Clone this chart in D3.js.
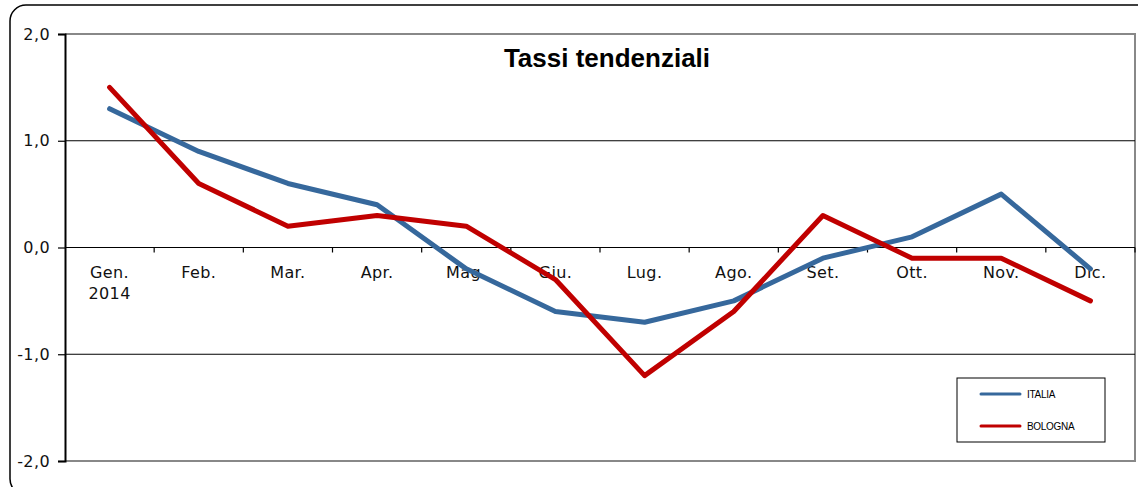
<!DOCTYPE html>
<html>
<head>
<meta charset="utf-8">
<script src="https://cdn.jsdelivr.net/npm/d3@7"></script>
<style>
  body { margin: 0; background: #fff; }
  svg { display: block; }
  .lbl { font-family: "DejaVu Sans", Verdana, sans-serif; font-size: 16px; letter-spacing: 0.4px; fill: #111; }
</style>
</head>
<body>
<svg width="1138" height="487"></svg>
<script>
// months (first one carries the year on a second line)
const months = ['Gen.', 'Feb.', 'Mar.', 'Apr.', 'Mag.', 'Giu.', 'Lug.', 'Ago.', 'Set.', 'Ott.', 'Nov.', 'Dic.'];
const yearLabel = '2014';
const italia = [1.3, 0.9, 0.6, 0.4, -0.2, -0.6, -0.7, -0.5, -0.1, 0.1, 0.5, -0.2];
const bologna = [1.5, 0.6, 0.2, 0.3, 0.2, -0.3, -1.2, -0.6, 0.3, -0.1, -0.1, -0.5];
const yTicks = [2, 1, 0, -1, -2];
const seriesNames = ['ITALIA', 'BOLOGNA'];

const svg = d3.select('svg'),
      colors = ['#36689c', '#c00000'],
      plot = {left: 65, right: 1135, top: 34, bottom: 461};

// outer frame, rounded, runs off the right and bottom edge
svg.append('rect')
  .attr('x', 10).attr('y', 5).attr('width', 1145).attr('height', 490)
  .attr('rx', 16).attr('fill', '#fff')
  .attr('stroke', '#000').attr('stroke-width', 1.5);

const x = d3.scaleBand().domain(months).range([plot.left, plot.right]);
const y = d3.scaleLinear().domain([-2, 2]).range([plot.bottom, plot.top]);

// plot border (grey top / right / bottom)
svg.append('path')
  .attr('d', 'M' + plot.left + ',' + plot.top + 'H' + plot.right + 'V' + plot.bottom + 'H' + plot.left)
  .attr('fill', 'none').attr('stroke', '#888').attr('stroke-width', 2);

// gridlines
svg.append('g').selectAll('line')
  .data(yTicks.filter(d => d > -2 && d < 2))
  .enter().append('line')
  .attr('x1', plot.left).attr('x2', plot.right)
  .attr('y1', d => y(d)).attr('y2', d => y(d))
  .attr('stroke', '#000').attr('stroke-width', 1.2);

// y axis
const yAxis = svg.append('g')
  .attr('transform', 'translate(' + plot.left + ',0)')
  .call(d3.axisLeft(y).tickValues(yTicks).tickSize(7).tickPadding(8)
    .tickFormat(d => d3.format('.1f')(d).replace('.', ',').replace('−', '-')));
yAxis.attr('font-family', null).attr('font-size', null);
yAxis.select('.domain').attr('stroke', '#000').attr('stroke-width', 2);
yAxis.selectAll('.tick line').attr('stroke', '#000').attr('stroke-width', 1.2);
yAxis.selectAll('text').attr('class', 'lbl');

// x axis on the zero line, ticks at category boundaries
const bounds = months.map(m => x(m)).concat([plot.right]);
svg.append('g').selectAll('line')
  .data(bounds.slice(1))
  .enter().append('line')
  .attr('x1', d => d).attr('x2', d => d)
  .attr('y1', y(0)).attr('y2', y(0) + 5)
  .attr('stroke', '#000').attr('stroke-width', 1.2);

svg.append('g').selectAll('text')
  .data(months)
  .enter().append('text')
  .attr('class', 'lbl')
  .attr('x', d => x(d) + x.bandwidth() / 2)
  .attr('y', y(0) + 30)
  .attr('text-anchor', 'middle')
  .text(d => d);
svg.append('text').attr('class', 'lbl')
  .attr('x', x(months[0]) + x.bandwidth() / 2)
  .attr('y', y(0) + 51)
  .attr('text-anchor', 'middle')
  .text(yearLabel);

// title
svg.append('text')
  .attr('x', 607).attr('y', 67)
  .attr('text-anchor', 'middle')
  .attr('font-family', '"Liberation Sans", Arial, sans-serif')
  .attr('font-weight', 'bold').attr('font-size', 26)
  .text('Tassi tendenziali');

// lines
const line = d3.line()
  .x((d, i) => x(months[i]) + x.bandwidth() / 2)
  .y(d => y(d));
[italia, bologna].forEach((s, k) => {
  svg.append('path')
    .datum(s)
    .attr('d', line)
    .attr('fill', 'none')
    .attr('stroke', colors[k])
    .attr('stroke-width', 5)
    .attr('stroke-linejoin', 'round')
    .attr('stroke-linecap', 'round');
});

// legend
const lg = svg.append('g').attr('transform', 'translate(957,378)');
lg.append('rect').attr('width', 148).attr('height', 64)
  .attr('fill', '#fff').attr('stroke', '#000').attr('stroke-width', 1);
seriesNames.forEach((n, k) => {
  const ly = 16 + k * 32;
  lg.append('line').attr('x1', 24).attr('x2', 63).attr('y1', ly).attr('y2', ly)
    .attr('stroke', colors[k]).attr('stroke-width', 3).attr('stroke-linecap', 'round');
  lg.append('text').attr('x', 70).attr('y', ly + 3.5)
    .attr('font-family', '"Liberation Sans", Arial, sans-serif').attr('font-size', 10)
    .attr('letter-spacing', -0.3)
    .text(n);
});
</script>
</body>
</html>
